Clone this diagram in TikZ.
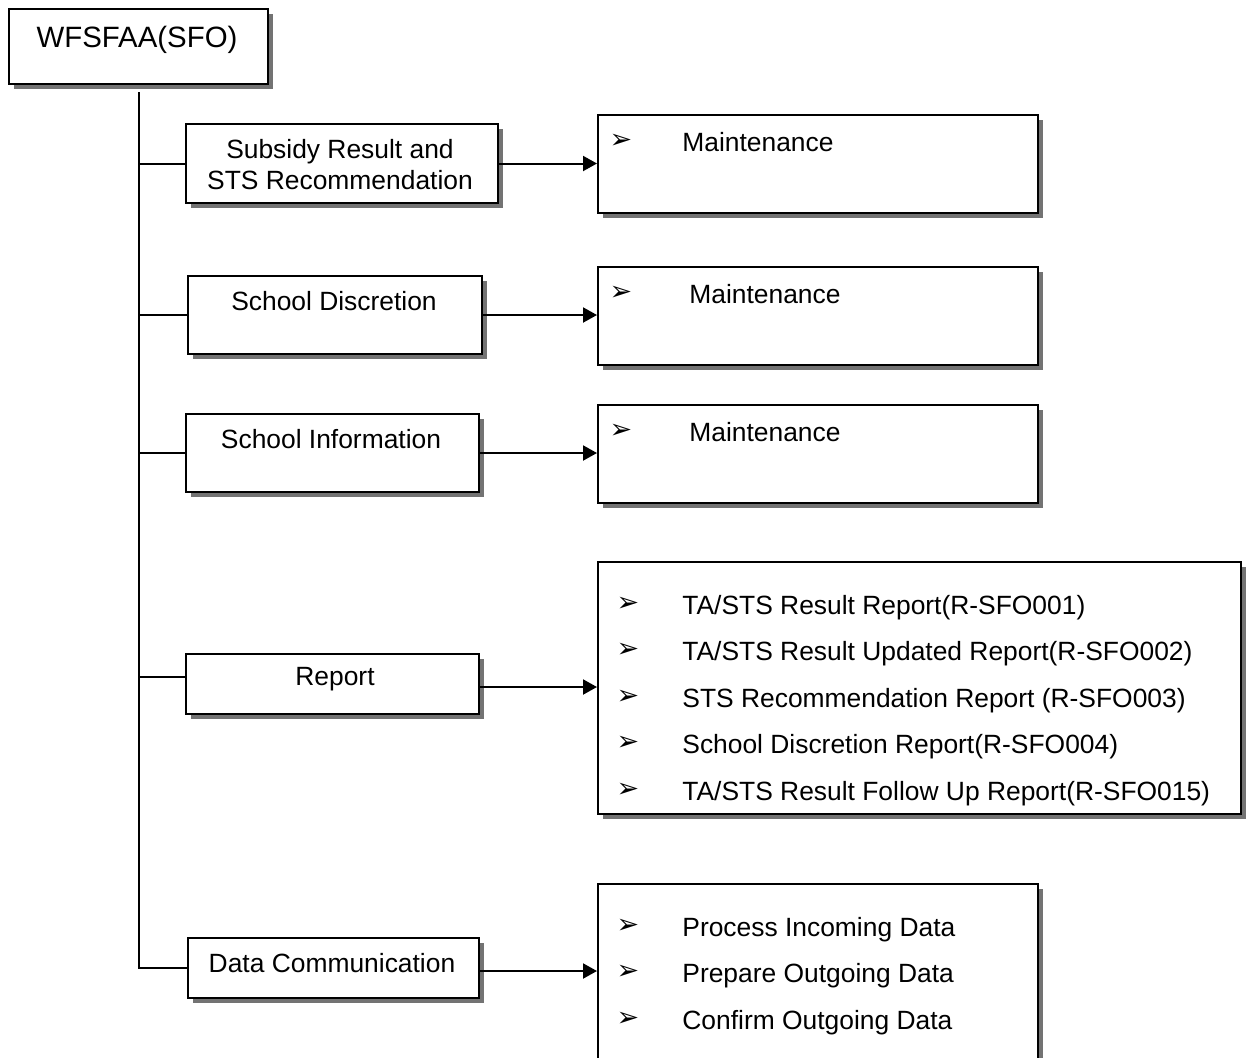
\documentclass[tikz,border=0pt]{standalone}
\usepackage{fontspec}
\setmainfont{Liberation Sans}
\newfontfamily\symfont{DejaVu Sans}
\usetikzlibrary{arrows.meta,shadows}

\tikzset{
  box/.style={draw, line width=1pt, fill=white, inner sep=0pt, anchor=north west,
    drop shadow={shadow xshift=2.5pt, shadow yshift=-2.5pt, fill=black!55, opacity=1}},
  lbl/.style={font=\fontsize{13.2}{15.5}\selectfont, align=center, inner sep=0pt},
  item/.style={font=\fontsize{13.2}{15.5}\selectfont, anchor=base west, inner sep=0pt},
  bul/.style={font=\symfont\fontsize{13.5}{15}\selectfont, inner sep=0pt},
  link/.style={line width=1pt},
  arr/.style={line width=1pt, -{Triangle[length=7pt,width=7.5pt]}}
}

\begin{document}
\begin{tikzpicture}[x=0.5pt, y=-0.5pt]
  \clip (0,0) rectangle (1249,1057);
  \fill[white] (0,0) rectangle (1249,1057);

  % left column
  \node[box, minimum width=129.5pt, minimum height=37.5pt] (sfo) at (8,8) {};
  \node[box, minimum width=156pt, minimum height=39.5pt] (sub) at (185,123) {};
  \node[box, minimum width=147pt, minimum height=39pt] (dis) at (187,275) {};
  \node[box, minimum width=146.5pt, minimum height=39pt] (inf) at (185,413) {};
  \node[box, minimum width=146.5pt, minimum height=30pt] (rep) at (185,653) {};
  \node[box, minimum width=145.5pt, minimum height=30pt] (dat) at (187,937) {};

  \node[lbl, font=\fontsize{14.7}{17}\selectfont] (sfot) at (137,40) {WFSFAA(SFO)};
  \node[lbl] (subt) at (340,165) {Subsidy Result and\\STS Recommendation};
  \node[lbl] (dist) at (334,301) {School Discretion};
  \node[lbl] (inft) at (331,439) {School Information};
  \node[lbl] (rept) at (335,679) {Report};
  \node[lbl] (datt) at (332,963) {Data Communication};

  % right column
  \node[box, minimum width=220pt, minimum height=49pt] (m1) at (597,114) {};
  \node[box, minimum width=220pt, minimum height=49pt] (m2) at (597,266) {};
  \node[box, minimum width=220pt, minimum height=49pt] (m3) at (597,404) {};
  \node[box, minimum width=321.5pt, minimum height=126pt] (rl) at (597,561) {};
  \node[box, minimum width=220pt, minimum height=100pt] (dl) at (597,883) {};

  \node[bul] (m1b) at (621,141) {➢};
  \node[item] (m1t) at (682,151) {Maintenance};
  \node[bul] (m2b) at (621,293) {➢};
  \node[item] (m2t) at (689,303) {Maintenance};
  \node[bul] (m3b) at (621,431) {➢};
  \node[item] (m3t) at (689,441) {Maintenance};

  \foreach \t [count=\i] in {TA/STS Result Report(R-SFO001),
      TA/STS Result Updated Report(R-SFO002),
      STS Recommendation Report (R-SFO003),
      School Discretion Report(R-SFO004),
      TA/STS Result Follow Up Report(R-SFO015)}{
    \node[bul] (rb\i) at (628,{604+(\i-1)*46.5}) {➢};
    \node[item] (r\i) at (682,{614+(\i-1)*46.5}) {\t};
  }
  \foreach \t [count=\i] in {Process Incoming Data, Prepare Outgoing Data, Confirm Outgoing Data}{
    \node[bul] (db\i) at (628,{926+(\i-1)*46.5}) {➢};
    \node[item] (d\i) at (682,{936+(\i-1)*46.5}) {\t};
  }

  % connectors
  \draw[link] ([yshift=-3.5pt]sfo.south) |- (dat.west);
  \foreach \n in {sub,dis,inf}
    \draw[link] (\n.west) -- (\n.west -| sfo.south);
  \draw[link] ([yshift=3.5pt]rep.west) -- ([yshift=3.5pt]rep.west -| sfo.south);

  \draw[arr] (sub.east) -- (sub.east -| m1.west);
  \draw[arr] (dis.east) -- (dis.east -| m2.west);
  \draw[arr] (inf.east) -- (inf.east -| m3.west);
  \draw[arr] ([yshift=-1.5pt]rep.east) -- ([yshift=-1.5pt]rep.east -| rl.west);
  \draw[arr] ([yshift=-1.5pt]dat.east) -- ([yshift=-1.5pt]dat.east -| dl.west);
\end{tikzpicture}
\end{document}
